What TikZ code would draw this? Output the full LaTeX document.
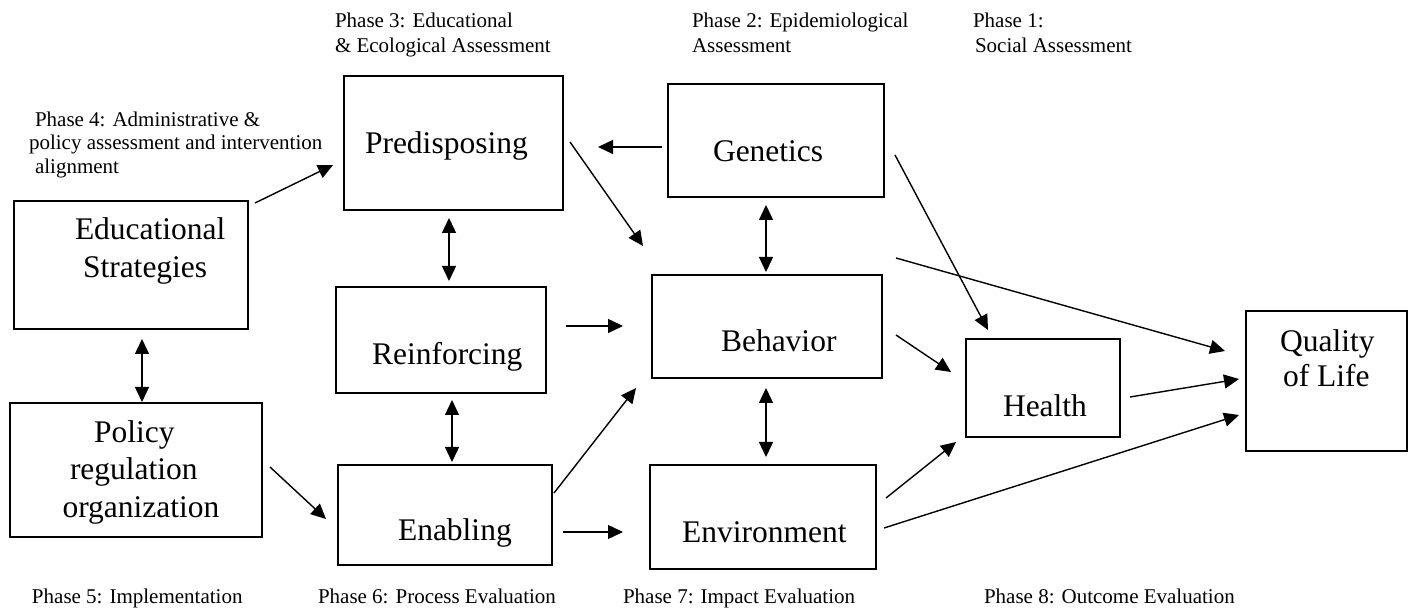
\documentclass[tikz,border=0pt]{standalone}
\usepackage{fontspec}
\setmainfont{Liberation Serif}
\usetikzlibrary{arrows.meta,calc}
\begin{document}
\begin{tikzpicture}[x=0.5pt,y=-0.5pt,
  box/.style={draw, line width=1pt, inner sep=0pt, outer sep=0pt},
  big/.style={font=\fontsize{15.75}{18.5}\selectfont, inner sep=0pt, outer sep=0pt, anchor=base west},
  small/.style={font=\fontsize{10.5}{12}\selectfont, inner sep=0pt, outer sep=0pt, anchor=base west},
  arr/.style={line width=0.7pt, -{Triangle[length=7.5pt,width=7pt]}},
  darr/.style={line width=0.7pt, {Triangle[length=7.5pt,width=7pt]}-{Triangle[length=7.5pt,width=7pt]}}]
\useasboundingbox (0,0) rectangle (1416,613);

% boxes
\node[box, minimum width=117pt, minimum height=64pt] (ed) at (131,265) {};
\node[box, minimum width=126pt, minimum height=67pt] (pol) at (136,470) {};
\node[box, minimum width=109.5pt, minimum height=67pt] (pre) at (453.5,143) {};
\node[box, minimum width=105pt, minimum height=53pt] (rei) at (441,340) {};
\node[box, minimum width=107pt, minimum height=50pt] (ena) at (445,515) {};
\node[box, minimum width=108pt, minimum height=56.5pt] (gen) at (776,140.5) {};
\node[box, minimum width=115pt, minimum height=51.5pt] (beh) at (767,326.5) {};
\node[box, minimum width=113pt, minimum height=52pt] (env) at (763,517) {};
\node[box, minimum width=77pt, minimum height=49pt] (hea) at (1043,388) {};
\node[box, minimum width=80.5pt, minimum height=70pt] (qol) at (1326.5,381) {};

% box texts
\node[big] (edA) at (75,240) {Educational};
\node[big] (edB) at (83,278) {Strategies};
\node[big] (polA) at (94,443) {Policy};
\node[big] (polB) at (70,480) {regulation};
\node[big] (polC) at (62.5,517) {organization};
\node[big] (preT) at (365,154) {Predisposing};
\node[big] (reiT) at (372,365) {Reinforcing};
\node[big] (enaT) at (398,540) {Enabling};
\node[big] (genT) at (713,162) {Genetics};
\node[big] (behT) at (721,352) {Behavior};
\node[big] (envT) at (682,542) {Environment};
\node[big] (heaT) at (1003,417) {Health};
\node[big] (qolA) at (1280,352) {Quality};
\node[big] (qolB) at (1283,387) {of Life};

% phase labels
\node[small] (p3a) at (335,28) {Phase 3: Educational};
\node[small] (p3b) at (335,53) {\& Ecological Assessment};
\node[small] (p2a) at (692,28) {Phase 2: Epidemiological};
\node[small] (p2b) at (692,53) {Assessment};
\node[small] (p1a) at (973,28) {Phase 1:};
\node[small] (p1b) at (975,53) {Social Assessment};
\node[small] (p4a) at (35,127) {Phase 4: Administrative \&};
\node[small] (p4b) at (29,150) {policy assessment and intervention};
\node[small] (p4c) at (35,174) {alignment};
\node[small] (p5) at (32,603) {Phase 5: Implementation};
\node[small] (p6) at (318,603) {Phase 6: Process Evaluation};
\node[small] (p7) at (623,603) {Phase 7: Impact Evaluation};
\node[small] (p8) at (984,603) {Phase 8: Outcome Evaluation};

% connectors
\draw[arr] ($(ed.north east)+(7,2)$) -- ($(pre.west)+(-11,22)$);
\draw[arr] ($(gen.west)+(-6,6.5)$) -- ($(pre.east)+(35,4)$);
\draw[arr] ($(pre.east)+(7,-1)$) -- ($(beh.north west)+(-9,-29)$);
\draw[darr] ($(gen.south)+(-10,8)$) -- ($(beh.north)+(-1,-3)$);
\draw[darr] ($(pre.south)+(-4.5,8)$) -- ($(rei.north)+(8,-6)$);
\draw[arr] ($(rei.east)+(20,-14)$) -- ($(beh.west)+(-29,-0.5)$);
\draw[darr] ($(rei.south)+(11,7)$) -- ($(ena.north)+(7,-3)$);
\draw[darr] ($(ed.south)+(11,10)$) -- ($(pol.north)+(6,-1)$);
\draw[arr] ($(pol.east)+(8,-3)$) -- ($(ena.west)+(-12,4)$);
\draw[arr] ($(ena.east)+(2,-22)$) -- ($(beh.south west)+(-16,10)$);
\draw[arr] ($(ena.east)+(11,17)$) -- ($(env.west)+(-27,15)$);
\draw[darr] ($(beh.south)+(-1,10)$) -- ($(env.north)+(3,-8)$);
\draw[arr] ($(beh.east)+(14,8.5)$) -- ($(hea.west)+(-15,-16)$);
\draw[arr] ($(gen.east)+(11,14.5)$) -- ($(hea.north west)+(22,-9)$);
\draw[arr] ($(beh.north east)+(14,-17)$) -- ($(qol.west)+(-21,-30)$);
\draw[arr] ($(hea.east)+(10,9)$) -- ($(qol.west)+(-7,-2)$);
\draw[arr] ($(env.east)+(10,-19)$) -- ($(hea.south west)+(-10,5)$);
\draw[arr] ($(env.east)+(8,11)$) -- ($(qol.west)+(-7,34)$);
\end{tikzpicture}
\end{document}
